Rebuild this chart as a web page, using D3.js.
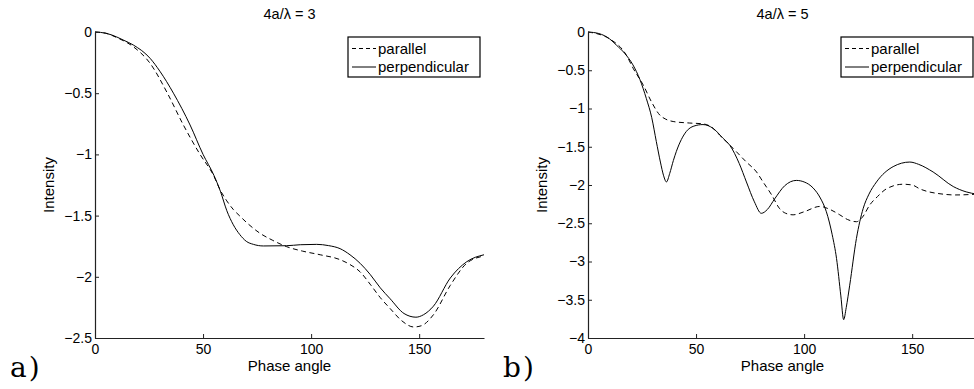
<!DOCTYPE html>
<html>
<head>
<meta charset="utf-8">
<script src="https://cdn.jsdelivr.net/npm/d3@7"></script>
<style>
  body { margin: 0; background: #fff; }
  svg { display: block; }
</style>
</head>
<body>
<script>
// panel a) 4a/lambda = 3
const aParX = [0, 5, 10, 17.7, 25.5, 33.5, 40.9, 48.6, 54.8, 57.9, 61, 64, 67.1, 71, 76.4, 82, 88.7, 96, 104.2, 113.4, 118, 122.7, 127.3, 132, 136.6, 142, 147.5, 151, 156.6, 164.4, 172, 180]
const aParY = [0, -0.01, -0.045, -0.12, -0.256, -0.5, -0.76, -1.0, -1.17, -1.29, -1.38, -1.45, -1.505, -1.57, -1.645, -1.7, -1.754, -1.79, -1.82, -1.86, -1.9, -1.96, -2.06, -2.17, -2.26, -2.36, -2.41, -2.4, -2.31, -2.07, -1.89, -1.83]
const aPerX = [0, 5, 10, 13, 17.7, 25.5, 30, 36.3, 44, 50, 55, 58, 61, 64, 67, 70, 73.3, 77.9, 88.7, 95, 102.6, 108, 113.4, 118, 122.7, 127.3, 132, 136.6, 143, 148.5, 152, 156.6, 164.4, 172, 180]
const aPerY = [0, -0.01, -0.04, -0.065, -0.106, -0.215, -0.32, -0.5, -0.76, -1.0, -1.17, -1.3, -1.46, -1.575, -1.655, -1.71, -1.735, -1.748, -1.746, -1.738, -1.735, -1.745, -1.77, -1.82, -1.89, -1.98, -2.09, -2.18, -2.3, -2.33, -2.31, -2.24, -2.01, -1.877, -1.82]

// panel b) 4a/lambda = 5
const bParX = [0, 10, 17.7, 21, 25.5, 29.5, 33.2, 36, 39.4, 47.1, 53, 57, 61, 67.1, 73.3, 78, 81, 85, 88.7, 91.5, 94.9, 100, 107.3, 112, 116.5, 120, 124.2, 127, 130.4, 134, 138.1, 145.8, 150, 153.5, 164.4, 170, 180]
const bParY = [0, -0.09, -0.3, -0.48, -0.69, -0.92, -1.085, -1.14, -1.17, -1.19, -1.2, -1.24, -1.35, -1.52, -1.7, -1.83, -1.96, -2.13, -2.31, -2.37, -2.39, -2.35, -2.28, -2.32, -2.39, -2.45, -2.48, -2.42, -2.26, -2.15, -2.05, -1.99, -2.0, -2.05, -2.12, -2.13, -2.12]
const bPerX = [0, 5, 10, 13.1, 17, 20.8, 24, 27, 29.5, 31.6, 33.5, 35, 36.3, 37.8, 39.5, 40.9, 45.5, 49, 53.2, 57.9, 62.5, 65.6, 70, 73.3, 77, 80.2, 83, 86.4, 91, 96.4, 100, 104.2, 107.5, 110.3, 113, 115, 117, 118.3, 119.5, 121.1, 124.2, 127.3, 130, 133.5, 141.2, 148.9, 153, 159.7, 169, 175, 180]
const bPerY = [0, -0.02, -0.09, -0.17, -0.28, -0.43, -0.62, -0.87, -1.12, -1.43, -1.7, -1.88, -1.96, -1.85, -1.68, -1.56, -1.3, -1.23, -1.21, -1.26, -1.39, -1.48, -1.72, -1.96, -2.22, -2.37, -2.32, -2.18, -2.01, -1.94, -1.96, -2.04, -2.17, -2.35, -2.65, -2.96, -3.45, -3.76, -3.6, -3.31, -2.7, -2.31, -2.12, -1.96, -1.76, -1.7, -1.73, -1.83, -2.02, -2.09, -2.12]

const xTicks = [0, 50, 100, 150]
const aYTicks = [0, -0.5, -1, -1.5, -2, -2.5]
const bYTicks = [0, -0.5, -1, -1.5, -2, -2.5, -3, -3.5, -4]
const seriesNames = ['parallel', 'perpendicular']

const W = 974, H = 389
const sans = '"Liberation Sans", Arial, sans-serif'
const svg = d3.select('body').append('svg')
    .attr('width', W)
    .attr('height', H)

const fmt = d => d < 0 ? '\u2212' + Math.abs(d) : String(d)

function panel(left, title, tag, yMin, yTicks, par, per) {
    const x = d3.scaleLinear().domain([0, 180]).range([left, left + 389])
    const y = d3.scaleLinear().domain([yMin, 0]).range([338, 32])
    const g = svg.append('g')

    const line = d3.line()
        .x(d => x(d[0]))
        .y(d => y(d[1]))
        .curve(d3.curveMonotoneX)

    g.append('path')
        .attr('d', line(d3.zip(par[0], par[1])))
        .attr('fill', 'none')
        .attr('stroke', '#000')
        .attr('stroke-width', 1)
        .attr('stroke-dasharray', '5,3.5')

    g.append('path')
        .attr('d', line(d3.zip(per[0], per[1])))
        .attr('fill', 'none')
        .attr('stroke', '#000')
        .attr('stroke-width', 1)

    // axes, ticks pointing inward
    const xAxis = g.append('g')
        .attr('transform', 'translate(0,338)')
        .call(d3.axisBottom(x).tickValues(xTicks).tickFormat(fmt).tickSizeInner(-4).tickSizeOuter(0).tickPadding(6))
    const yAxis = g.append('g')
        .attr('transform', `translate(${left},0)`)
        .call(d3.axisLeft(y).tickValues(yTicks).tickFormat(fmt).tickSizeInner(-4).tickSizeOuter(0).tickPadding(3))
    ;[xAxis, yAxis].forEach(a => {
        a.select('.domain').attr('stroke', '#222').attr('stroke-width', 1.2)
        a.selectAll('.tick line').attr('stroke', '#222')
        a.selectAll('text').attr('font-size', 14).attr('font-family', sans).attr('fill', '#000')
    })

    const cx = (x.range()[0] + x.range()[1]) / 2
    g.append('text')
        .attr('x', cx)
        .attr('y', 19)
        .attr('text-anchor', 'middle')
        .attr('font-family', sans)
        .attr('font-size', 14.5)
        .text(title)

    g.append('text')
        .attr('x', cx)
        .attr('y', 371)
        .attr('text-anchor', 'middle')
        .attr('font-family', sans)
        .attr('font-size', 15)
        .text('Phase angle')

    g.append('text')
        .attr('transform', `translate(${left - 41},185) rotate(-90)`)
        .attr('text-anchor', 'middle')
        .attr('font-family', sans)
        .attr('font-size', 15)
        .text('Intensity')

    g.append('text')
        .attr('x', left - 85)
        .attr('y', 377)
        .attr('font-family', '"DejaVu Serif", serif')
        .attr('font-size', 28)
        .attr('letter-spacing', 2)
        .text(tag)

    // legend
    const lx = left + 253, ly = 37
    g.append('rect')
        .attr('x', lx).attr('y', ly)
        .attr('width', 132).attr('height', 40)
        .attr('fill', '#fff')
        .attr('stroke', '#000')
        .attr('stroke-width', 1.2)
    seriesNames.forEach((name, i) => {
        const cy = ly + 11.5 + i * 18.5
        g.append('line')
            .attr('x1', lx + 4).attr('x2', lx + 28)
            .attr('y1', cy).attr('y2', cy)
            .attr('stroke', '#000')
            .attr('stroke-dasharray', i === 0 ? '4,3' : null)
        g.append('text')
            .attr('x', lx + 30)
            .attr('y', cy + 5)
            .attr('font-family', sans)
            .attr('font-size', 15)
            .text(name)
    })
}

panel(95, '4a/\u03bb = 3', 'a)', -2.5, aYTicks, [aParX, aParY], [aPerX, aPerY])
panel(588, '4a/\u03bb = 5', 'b)', -4, bYTicks, [bParX, bParY], [bPerX, bPerY])
</script>
</body>
</html>
